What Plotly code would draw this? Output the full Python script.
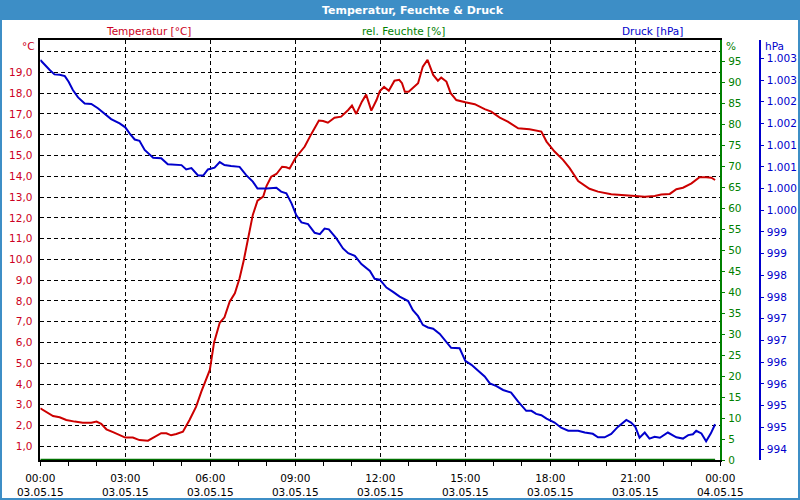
import plotly.graph_objects as go

DAY = "2015-05-03 "

temp_times = ["00:00", "00:09", "00:27", "00:41", "00:55", "01:13", "01:30", "01:48", "01:59", "02:09",
              "02:20", "02:34", "02:48", "03:00", "03:16", "03:30", "03:48", "04:02", "04:16", "04:27",
              "04:37", "04:48", "05:02", "05:16", "05:30", "05:41", "05:52", "05:59", "06:08", "06:20",
              "06:30", "06:41", "06:52", "07:02", "07:11", "07:20", "07:30", "07:40", "07:52", "07:59",
              "08:09", "08:20", "08:32", "08:41", "08:48", "09:00", "09:20", "09:34", "09:50", "09:59",
              "10:09", "10:23", "10:37", "10:52", "11:00", "11:09", "11:21", "11:30", "11:41", "11:52",
              "11:59", "12:08", "12:18", "12:30", "12:40", "12:46", "12:52", "13:00", "13:09", "13:20",
              "13:30", "13:40", "13:52", "14:02", "14:09", "14:20", "14:29", "14:41", "15:00", "15:20",
              "15:41", "15:55", "16:13", "16:30", "16:52", "17:16", "17:41", "17:52", "18:09", "18:27",
              "18:41", "18:59", "19:23", "19:41", "20:09", "20:41", "21:00", "21:20", "21:41", "21:55",
              "22:13", "22:27", "22:41", "22:59", "23:16", "23:30", "23:41", "23:49"]
temp_values = [2.83, 2.72, 2.46, 2.40, 2.27, 2.19, 2.14, 2.14, 2.19, 2.08,
               1.82, 1.68, 1.55, 1.42, 1.42, 1.30, 1.27, 1.46, 1.63, 1.63,
               1.53, 1.59, 1.70, 2.27, 2.91, 3.63, 4.28, 4.68, 6.00, 6.95,
               7.21, 7.96, 8.37, 9.09, 9.97, 10.93, 12.14, 12.83, 13.02, 13.53,
               13.98, 14.11, 14.46, 14.43, 14.37, 14.87, 15.43, 16.04, 16.68, 16.66,
               16.58, 16.82, 16.87, 17.19, 17.40, 17.00, 17.59, 17.93, 17.16, 17.67,
               18.10, 18.30, 18.12, 18.60, 18.64, 18.48, 18.07, 18.07, 18.27, 18.48,
               19.28, 19.60, 18.88, 18.60, 18.75, 18.56, 18.00, 17.67, 17.56, 17.47,
               17.23, 17.11, 16.82, 16.63, 16.31, 16.26, 16.15, 15.67, 15.19, 14.79,
               14.39, 13.77, 13.40, 13.26, 13.13, 13.10, 13.05, 13.02, 13.05, 13.12,
               13.15, 13.38, 13.45, 13.66, 13.95, 13.95, 13.93, 13.82]

hum_times = ["00:00", "23:49"]
hum_values = [0, 0]

pres_times = ["00:00", "00:09", "00:20", "00:30", "00:41", "00:52", "01:00", "01:09", "01:20", "01:34",
              "01:48", "02:02", "02:16", "02:30", "02:48", "03:00", "03:09", "03:20", "03:30", "03:41",
              "03:59", "04:16", "04:30", "04:59", "05:09", "05:20", "05:34", "05:45", "05:55", "06:09",
              "06:20", "06:30", "06:44", "07:02", "07:16", "07:30", "07:40", "07:59", "08:20", "08:30",
              "08:41", "08:52", "09:02", "09:13", "09:27", "09:41", "09:52", "10:02", "10:11", "10:27",
              "10:41", "10:52", "11:06", "11:20", "11:38", "11:48", "11:59", "12:13", "12:27", "12:41",
              "12:59", "13:09", "13:20", "13:30", "13:41", "13:52", "14:06", "14:20", "14:30", "14:48",
              "15:00", "15:13", "15:27", "15:41", "15:52", "16:06", "16:20", "16:37", "16:52", "17:09",
              "17:20", "17:30", "17:41", "17:52", "18:09", "18:23", "18:38", "18:59", "19:13", "19:30",
              "19:41", "19:55", "20:09", "20:23", "20:41", "20:51", "21:00", "21:09", "21:20", "21:30",
              "21:41", "21:52", "22:09", "22:27", "22:41", "22:52", "23:02", "23:09", "23:20", "23:30",
              "23:40", "23:49"]
pres_values = [1002.96, 1002.85, 1002.73, 1002.63, 1002.62, 1002.59, 1002.46, 1002.27, 1002.10, 1001.96,
               1001.95, 1001.85, 1001.73, 1001.60, 1001.50, 1001.41, 1001.27, 1001.13, 1001.10, 1000.89,
               1000.71, 1000.70, 1000.56, 1000.54, 1000.44, 1000.47, 1000.30, 1000.30, 1000.44, 1000.48,
               1000.61, 1000.54, 1000.52, 1000.50, 1000.31, 1000.16, 1000.00, 1000.00, 1000.02, 999.93,
               999.89, 999.66, 999.39, 999.22, 999.18, 998.98, 998.95, 999.08, 999.06, 998.85,
               998.62, 998.51, 998.45, 998.26, 998.10, 997.92, 997.90, 997.72, 997.62, 997.51,
               997.41, 997.20, 997.06, 996.86, 996.80, 996.77, 996.65, 996.47, 996.33, 996.32,
               996.03, 995.94, 995.80, 995.67, 995.51, 995.45, 995.36, 995.30, 995.09, 994.88,
               994.88, 994.81, 994.78, 994.70, 994.61, 994.49, 994.42, 994.42, 994.38, 994.35,
               994.27, 994.27, 994.35, 994.51, 994.67, 994.61, 994.51, 994.26, 994.38, 994.24,
               994.28, 994.26, 994.38, 994.27, 994.24, 994.32, 994.34, 994.42, 994.36, 994.18,
               994.36, 994.57]

x_tick_times = ["2015-05-03 00:00", "2015-05-03 03:00", "2015-05-03 06:00", "2015-05-03 09:00",
                "2015-05-03 12:00", "2015-05-03 15:00", "2015-05-03 18:00", "2015-05-03 21:00",
                "2015-05-04 00:00"]
x_tick_labels = ["00:00<br>03.05.15", "03:00<br>03.05.15", "06:00<br>03.05.15", "09:00<br>03.05.15",
                 "12:00<br>03.05.15", "15:00<br>03.05.15", "18:00<br>03.05.15", "21:00<br>03.05.15",
                 "00:00<br>04.05.15"]

temp_ticks = list(range(1, 21))
temp_labels = ["1,0", "2,0", "3,0", "4,0", "5,0", "6,0", "7,0", "8,0", "9,0", "10,0",
               "11,0", "12,0", "13,0", "14,0", "15,0", "16,0", "17,0", "18,0", "19,0", ""]

hum_ticks = [0, 5, 10, 15, 20, 25, 30, 35, 40, 45, 50, 55, 60, 65, 70, 75, 80, 85, 90, 95]
hum_labels = [str(v) for v in hum_ticks]

pres_ticks = [994.0, 994.5, 995.0, 995.5, 996.0, 996.5, 997.0, 997.5, 998.0, 998.5,
              999.0, 999.5, 1000.0, 1000.5, 1001.0, 1001.5, 1002.0, 1002.5, 1003.0]
pres_labels = ["994", "995", "995", "996", "996", "997", "997", "998", "998", "999",
               "999", "1.000", "1.000", "1.001", "1.001", "1.002", "1.002", "1.003", "1.003"]

RED = "#cc0000"
RED_TXT = "#cc0022"
GREEN = "#008000"
BLUE = "#0000cc"
BAR = "#3d8ec6"
FONT = "DejaVu Sans"
FS = 10.5

fig = go.Figure()
fig.add_trace(go.Scatter(x=[DAY + t for t in hum_times], y=hum_values, yaxis="y2", mode="lines",
                         line=dict(color="#007000", width=2.5), hoverinfo="skip"))
fig.add_trace(go.Scatter(x=[DAY + t for t in pres_times], y=pres_values, yaxis="y3", mode="lines",
                         line=dict(color=BLUE, width=2)))
fig.add_trace(go.Scatter(x=[DAY + t for t in temp_times], y=temp_values, yaxis="y", mode="lines",
                         line=dict(color=RED, width=2)))

x0, x1 = 40.3 / 800, 720.3 / 800
y0, y1 = (500 - 460) / 500, (500 - 40) / 500

fig.update_layout(
    width=800, height=500, autosize=False,
    margin=dict(l=0, r=0, t=0, b=0, autoexpand=False),
    paper_bgcolor="white", plot_bgcolor="white",
    showlegend=False,
    font=dict(family=FONT, size=FS, color="black"),
    xaxis=dict(
        domain=[x0, x1], type="date", automargin=False,
        range=["2015-05-03 00:00", "2015-05-04 00:00"],
        tickvals=x_tick_times, ticktext=x_tick_labels,
        ticks="outside", ticklen=4, tickcolor="black", tickwidth=1,
        minor=dict(dtick=3600000, ticks="outside", ticklen=4, tickcolor="black", showgrid=False),
        showgrid=True, gridcolor="black", gridwidth=1, griddash="4px,3px",
        showline=True, linecolor="black", linewidth=1.5, mirror=True,
        zeroline=False, ticklabelstandoff=4,
        tickfont=dict(family=FONT, size=FS, color="black"),
    ),
    yaxis=dict(
        domain=[y0, y1], range=[0.342, 20.56], automargin=False,
        tickvals=temp_ticks, ticktext=temp_labels,
        ticks="", showgrid=True, gridcolor="black", gridwidth=1, griddash="4px,3px",
        showline=True, linecolor="black", linewidth=1.5, zeroline=False,
        tickfont=dict(family=FONT, size=FS, color=RED_TXT), ticklabelstandoff=4,
    ),
    yaxis2=dict(
        overlaying="y", side="right", anchor="x", range=[0, 100], automargin=False,
        tickvals=hum_ticks, ticktext=hum_labels,
        ticks="outside", ticklen=3, tickcolor=GREEN,
        showgrid=False, zeroline=False,
        showline=True, linecolor=GREEN, linewidth=1.5,
        tickfont=dict(family=FONT, size=FS, color=GREEN), ticklabelstandoff=1,
    ),
    yaxis3=dict(
        overlaying="y", side="right", anchor="free", position=760 / 800,
        range=[993.747, 1003.422], automargin=False,
        tickvals=pres_ticks, ticktext=pres_labels,
        ticks="outside", ticklen=3, tickcolor=BLUE,
        showgrid=False, zeroline=False,
        showline=True, linecolor=BLUE, linewidth=1.5,
        tickfont=dict(family=FONT, size=FS, color=BLUE), ticklabelstandoff=1,
    ),
    shapes=[
        dict(type="rect", xref="paper", yref="paper", x0=0, x1=1, y0=1 - 20 / 500, y1=1,
             fillcolor=BAR, line=dict(width=0), layer="below"),
        dict(type="rect", xref="paper", yref="paper", x0=0, x1=1, y0=0, y1=1,
             fillcolor="rgba(0,0,0,0)", line=dict(color=BAR, width=4)),
    ],
    annotations=[
        dict(text="<b>Temperatur, Feuchte &amp; Druck</b>", xref="paper", yref="paper",
             x=413 / 800, y=1 - 10 / 500, xanchor="center", yanchor="middle", showarrow=False,
             font=dict(family=FONT, size=11, color="white")),
        dict(text="Temperatur [°C]", xref="paper", yref="paper", x=148 / 800, y=1 - 31 / 500,
             xanchor="center", yanchor="middle", showarrow=False, font=dict(color=RED_TXT)),
        dict(text="rel. Feuchte [%]", xref="paper", yref="paper", x=403 / 800, y=1 - 31 / 500,
             xanchor="center", yanchor="middle", showarrow=False, font=dict(color=GREEN)),
        dict(text="Druck [hPa]", xref="paper", yref="paper", x=652 / 800, y=1 - 31 / 500,
             xanchor="center", yanchor="middle", showarrow=False, font=dict(color=BLUE)),
        dict(text="°C", xref="paper", yref="paper", x=37 / 800, y=1 - 46 / 500,
             xanchor="right", yanchor="middle", showarrow=False, font=dict(color=RED_TXT)),
        dict(text="%", xref="paper", yref="paper", x=724 / 800, y=1 - 46 / 500,
             xanchor="left", yanchor="middle", showarrow=False, font=dict(color=GREEN)),
        dict(text="hPa", xref="paper", yref="paper", x=763 / 800, y=1 - 46 / 500,
             xanchor="left", yanchor="middle", showarrow=False, font=dict(color=BLUE)),
    ],
)

fig.write_html("out.html")
